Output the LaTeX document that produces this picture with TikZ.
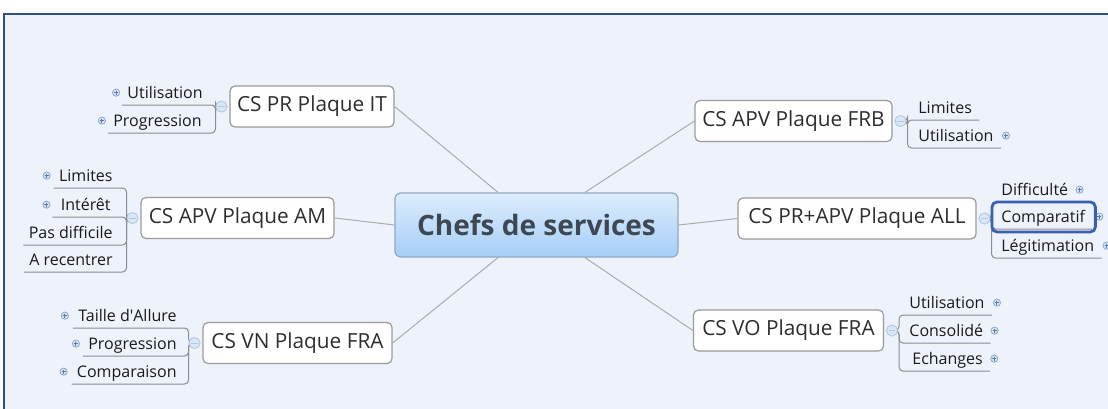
\documentclass[tikz,border=0pt]{standalone}
\usepackage{fontspec}
\setmainfont{Open Sans}
\usepackage{xcolor}
\usetikzlibrary{positioning}
\definecolor{canvas}{HTML}{EEF2FB}
\definecolor{framecol}{HTML}{2E4F8A}
\definecolor{boxline}{HTML}{9A9A9A}
\definecolor{spokegrey}{HTML}{ABABAB}
\definecolor{twiggrey}{HTML}{8C8C8C}
\definecolor{branchink}{HTML}{2E2E2E}
\definecolor{leafink}{HTML}{1A1A1A}
\definecolor{hubink}{HTML}{3D4852}
\definecolor{hubtop}{HTML}{DDEDFD}
\definecolor{hubbottom}{HTML}{A5CDF7}
\definecolor{hubline}{HTML}{8FA9C6}
\definecolor{expfill}{HTML}{D5E3F5}
\definecolor{expring}{HTML}{8FA8CC}
\definecolor{expplus}{HTML}{5B79A8}
\definecolor{foldfill}{HTML}{D9E6F6}
\definecolor{foldline}{HTML}{B5C9E4}
\definecolor{selblue}{HTML}{3A60B0}

\tikzset{
  hub/.style={rectangle, rounded corners=3pt, draw=hubline, line width=0.6pt,
    top color=hubtop, bottom color=hubbottom, minimum width=141.5pt,
    minimum height=32pt, text=hubink, font=\fontsize{14}{16}\selectfont\bfseries},
  branch/.style={rectangle, rounded corners=2.5pt, draw=boxline, line width=0.6pt,
    fill=white, minimum height=20.5pt, inner xsep=3pt, text=branchink,
    font=\fontsize{10.4}{12}\selectfont},
  leaf/.style={inner sep=0pt, text=leafink, font=\fontsize{8}{9.6}\selectfont},
  leafL/.style={leaf, anchor=base east},
  leafR/.style={leaf, anchor=base west},
  fold/.style={circle, minimum size=5.5pt, inner sep=0pt, fill=foldfill,
    draw=foldline, line width=0.4pt,
    path picture={\draw[foldline, line width=0.5pt]
      ([xshift=1.2pt]path picture bounding box.west) --
      ([xshift=-1.2pt]path picture bounding box.east);}},
  spoke/.style={draw=spokegrey, line width=0.5pt},
  twig/.style={draw=twiggrey, line width=0.5pt, rounded corners=2pt},
  selbox/.style={draw=selblue, line width=1.4pt, rounded corners=2.5pt}
}
\newcommand{\expander}[1]{%
  \filldraw[fill=expfill, draw=expring, line width=0.4pt] #1 circle[radius=3.6];
  \draw[expplus, line width=0.5pt] #1 ++(-2,0) -- ++(4,0) #1 ++(0,-2) -- ++(0,4);}

\begin{document}
\begin{tikzpicture}[x=0.5pt, y=-0.5pt, node distance=1pt]
  \clip (0,0) rectangle (1108,408);
  \fill[white] (0,0) rectangle (1108,408);
  \filldraw[fill=canvas, draw=framecol, line width=1pt] (4,14) rectangle (1130,430);

  % hub and branches
  \node[hub] (chefs) at (536.5,225) {Chefs de services};
  \node[branch, minimum width=82pt]   (it)  at (312,106.5) {CS PR Plaque IT};
  \node[branch, minimum width=96.5pt] (am)  at (237.5,218) {CS APV Plaque AM};
  \node[branch, minimum width=94.5pt] (vn)  at (297.5,343) {CS VN Plaque FRA};
  \node[branch, minimum width=98.5pt] (frb) at (793.5,121) {CS APV Plaque FRB};
  \node[branch, minimum width=119pt]  (all) at (857,218.5) {CS PR+APV Plaque ALL};
  \node[branch, minimum width=95pt]   (vo)  at (788.5,330.5) {CS VO Plaque FRA};

  \draw[spoke] ([shift={(-38.5,0)}]chefs.north) -- (it.east);
  \draw[spoke] ([shift={(48.5,0)}]chefs.north) -- (frb.west);
  \draw[spoke] ([shift={(-38.5,0)}]chefs.south) -- (vn.east);
  \draw[spoke] ([shift={(48.5,0)}]chefs.south) -- (vo.west);
  \draw[spoke] (chefs.west) -- (am.east);
  \draw[spoke] (chefs.east) -- (all.west);

  % leaves
  \node[leafL] (it1) at (203,98)  {Utilisation};
  \node[leafL] (it2) at (202,126) {Progression};
  \node[leafL] (am1) at (113,181) {Limites};
  \node[leafL] (am2) at (111,210) {Intérêt};
  \node[leafL] (am3) at (113,238) {Pas difficile};
  \node[leafL] (am4) at (113,265) {A recentrer};
  \node[leafL] (vn1) at (177,321) {Taille d\textquotesingle Allure};
  \node[leafL] (vn2) at (177,349) {Progression};
  \node[leafL] (vn3) at (177,377) {Comparaison};
  \node[leafR] (frb1) at (918,113) {Limites};
  \node[leafR] (frb2) at (918,141) {Utilisation};
  \node[leafR] (all1) at (1001,195) {Difficulté};
  \node[leafR] (all2) at (1001,222) {Comparatif};
  \node[leafR] (all3) at (1001,251) {Légitimation};
  \node[leafR] (vo1) at (909,308) {Utilisation};
  \node[leafR] (vo2) at (909,336) {Consolidé};
  \node[leafR] (vo3) at (912,364) {Echanges};

  % fold circles
  \node[fold, left=of it]   (itdot)  {};
  \node[fold, left=of am]   (amdot)  {};
  \node[fold, left=of vn]   (vndot)  {};
  \node[fold, right=of frb] (frbdot) {};
  \node[fold, right=of all] (alldot) {};
  \node[fold, right=of vo]  (vodot)  {};

  % underline brackets
  \draw[twig] (itdot.center) -- ++(-6,0) |- ([shift={(-5,7)}]it1.base west);
  \draw[twig] (itdot.center) -- ++(-6,0) |- ([shift={(-5,7)}]it2.base west);
  \draw[twig] (amdot.center) -- ++(-6,0) |- ([shift={(-5,7)}]am1.base west);
  \draw[twig] (amdot.center) -- ++(-6,0) |- ([shift={(-8,7)}]am2.base west);
  \draw[twig] (amdot.center) -- ++(-6,0) |- ([shift={(-5,7)}]am3.base west);
  \draw[twig] (amdot.center) -- ++(-6,0) |- ([shift={(-5,7)}]am4.base west);
  \draw[twig] (vndot.center) -- ++(-6,0) |- ([shift={(-5,7)}]vn1.base west);
  \draw[twig] (vndot.center) -- ++(-6,0) |- ([shift={(-5,7)}]vn2.base west);
  \draw[twig] (vndot.center) -- ++(-6,0) |- ([shift={(-5,7)}]vn3.base west);
  \draw[twig] (frbdot.center) -- ++(7,0) |- ([shift={(7,7)}]frb1.base east);
  \draw[twig] (frbdot.center) -- ++(7,0) |- ([shift={(7,7)}]frb2.base east);
  \draw[twig] (alldot.center) -- ++(7,0) |- ([shift={(7,7)}]all1.base east);
  \draw[twig] (alldot.center) -- ++(7,0) |- ([shift={(7,7)}]all2.base east);
  \draw[twig] (alldot.center) -- ++(7,0) |- ([shift={(7,7)}]all3.base east);
  \draw[twig] (vodot.center) -- ++(7,0) |- ([shift={(7,7)}]vo1.base east);
  \draw[twig] (vodot.center) -- ++(7,0) |- ([shift={(7,7)}]vo2.base east);
  \draw[twig] (vodot.center) -- ++(7,0) |- ([shift={(7,7)}]vo3.base east);
  \node[fold] at (itdot) {};  \node[fold] at (amdot) {};  \node[fold] at (vndot) {};
  \node[fold] at (frbdot) {}; \node[fold] at (alldot) {}; \node[fold] at (vodot) {};

  % expand marks
  \expander{([shift={(-11,0)}]it1.mid west)}
  \expander{([shift={(-11,0)}]it2.mid west)}
  \expander{([shift={(-12,0)}]am1.mid west)}
  \expander{([shift={(-14,0)}]am2.mid west)}
  \expander{([shift={(-13,0)}]vn1.mid west)}
  \expander{([shift={(-12,0)}]vn2.mid west)}
  \expander{([shift={(-13,0)}]vn3.mid west)}
  \expander{([shift={(12,0)}]frb2.mid east)}
  \expander{([shift={(11,0)}]all1.mid east)}
  \expander{([shift={(14,0)}]all2.mid east)}
  \expander{([shift={(12,0)}]all3.mid east)}
  \expander{([shift={(12,0)}]vo1.mid east)}
  \expander{([shift={(11,0)}]vo2.mid east)}
  \expander{([shift={(11,0)}]vo3.mid east)}

  % selected topic
  \draw[selbox] ([shift={(-9,-20)}]all2.base west) rectangle ([shift={(10,10)}]all2.base east);
\end{tikzpicture}
\end{document}
